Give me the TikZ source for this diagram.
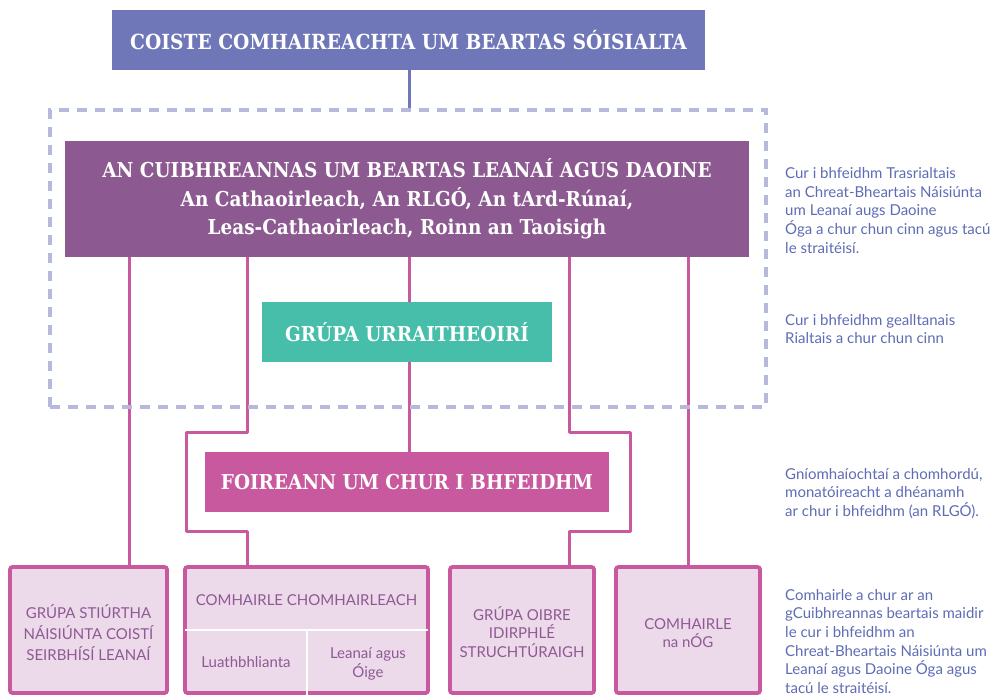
\documentclass[tikz,border=0pt]{standalone}
\usepackage{fontspec}
\setmainfont{Lato}
\newfontfamily\slab{DejaVu Serif Condensed}
\definecolor{topblue}{HTML}{6F77B8}
\definecolor{plum}{HTML}{8C5A91}
\definecolor{teal}{HTML}{47BEA9}
\definecolor{magenta}{HTML}{C9599E}
\definecolor{dashlav}{HTML}{B6B8DC}
\definecolor{lightpink}{HTML}{ECD9EA}
\definecolor{annot}{HTML}{5E6CB4}
\definecolor{boxtext}{HTML}{8E5A93}
\tikzset{
  headbox/.style={inner sep=0pt, text=white, align=center, font=\slab\bfseries},
  lowbox/.style={draw=magenta, line width=3.8pt, fill=lightpink, rounded corners=2.5pt,
     inner sep=0pt, minimum height=126pt},
  boxlabel/.style={text=boxtext, align=center, font=\fontsize{15}{21}\selectfont, inner sep=0pt},
  link/.style={draw=magenta, line width=3pt, line join=round},
  note/.style={text=annot, align=left, anchor=north west, inner sep=0pt,
     font=\fontsize{15}{18.6}\selectfont}
}
\begin{document}
\begin{tikzpicture}[x=1pt,y=-1pt]
\useasboundingbox (0,0) rectangle (992,695);
% head boxes
\node[headbox, fill=topblue, minimum width=593pt, minimum height=60pt, font=\slab\bfseries\fontsize{20.8}{24}\selectfont]
  (top) at (408.5,40) {COISTE COMHAIREACHTA UM BEARTAS SÓISIALTA};
\node[headbox, fill=plum, minimum width=684pt, minimum height=116pt, font=\slab\bfseries\fontsize{20.5}{28.5}\selectfont]
  (cuib) at (407,199) {AN CUIBHREANNAS UM BEARTAS LEANAÍ AGUS DAOINE\\An Cathaoirleach, An RLGÓ, An tArd-Rúnaí,\\Leas-Cathaoirleach, Roinn an Taoisigh};
\node[headbox, fill=teal, minimum width=290pt, minimum height=60pt, font=\slab\bfseries\fontsize{20.5}{24}\selectfont]
  (grp) at (407,332) {GRÚPA URRAITHEOIRÍ};
\node[headbox, fill=magenta, minimum width=404pt, minimum height=60pt, font=\slab\bfseries\fontsize{20.5}{24}\selectfont]
  (foir) at (407,482) {FOIREANN UM CHUR I BHFEIDHM};
% bottom boxes
\node[lowbox, minimum width=157pt] (b1) at (88.5,630) {};
\node[lowbox, minimum width=243pt] (b2) at (306.5,630) {};
\node[lowbox, minimum width=144pt] (b3) at (522,630) {};
\node[lowbox, minimum width=144pt] (b4) at (688,630) {};
% dividers in b2
\coordinate (dv) at (307,630);
\draw[white, line width=2pt] ([xshift=1.9pt]b2.west |- dv) -- ([xshift=-1.9pt]b2.east |- dv);
\draw[white, line width=2pt] (dv) -- ([yshift=-1.9pt]b2.south -| dv);
% bottom labels
\node[boxlabel] (l1) at (88.5,633) {GRÚPA STIÚRTHA\\NÁISIÚNTA COISTÍ\\SEIRBHÍSÍ LEANAÍ};
\node[boxlabel] (l2) at (306.5,600) {COMHAIRLE CHOMHAIRLEACH};
\node[boxlabel] (l2a) at (246,662) {Luathbhlianta};
\node[boxlabel, font=\fontsize{15}{19.5}\selectfont] (l2b) at (368,664) {Leanaí agus\\Óige};
\node[boxlabel, font=\fontsize{15}{18.5}\selectfont] (l3) at (522,632) {GRÚPA OIBRE\\IDIRPHLÉ\\STRUCHTÚRAIGH};
\node[boxlabel, font=\fontsize{15}{18.5}\selectfont] (l4) at (688,633) {COMHAIRLE\\na nÓG};
% connector coordinates
\coordinate (x1) at (129,0);
\coordinate (x2) at (247,0);
\coordinate (x3) at (409,0);
\coordinate (x4) at (569,0);
\coordinate (x5) at (688,0);
\coordinate (xl) at (186,0);
\coordinate (xr) at (630,0);
\coordinate (ya) at (0,432);
\coordinate (yb) at (0,531);
% connectors
\draw[link] (cuib.south -| x1) -- (b1.north -| x1);
\draw[link] (cuib.south -| x2) -- (x2 |- ya) -- (xl |- ya) -- (xl |- yb) -- (x2 |- yb) -- (b2.north -| x2);
\draw[link] (cuib.south -| x3) -- (grp.north -| x3);
\draw[link] (grp.south -| x3) -- (foir.north -| x3);
\draw[link] (cuib.south -| x4) -- (x4 |- ya) -- (xr |- ya) -- (xr |- yb) -- (x4 |- yb) -- (b3.north -| x4);
\draw[link] (cuib.south -| x5) -- (b4.north -| x5);
% dashed group frame
\node[draw=dashlav, line width=4pt, dash pattern=on 10pt off 8pt, inner sep=0pt,
  minimum width=716pt, minimum height=297pt] (frame) at (408,258.5) {};
\draw[topblue, line width=3pt] (top.south -| x3) -- (frame.north -| x3);
% notes
\node[note] (n1) at (785,167.5) {Cur i bhfeidhm Trasrialtais\\an Chreat-Bheartais Náisiúnta\\um Leanaí augs Daoine\\Óga a chur chun cinn agus tacú\\le straitéisí.};
\node[note] (n2) at (785,314) {Cur i bhfeidhm gealltanais\\Rialtais a chur chun cinn};
\node[note] (n3) at (785,468) {Gníomhaíochtaí a chomhordú,\\monatóireacht a dhéanamh\\ar chur i bhfeidhm (an RLGÓ).};
\node[note] (n4) at (785,589) {Comhairle a chur ar an\\gCuibhreannas beartais maidir\\le cur i bhfeidhm an\\Chreat-Bheartais Náisiúnta um\\Leanaí agus Daoine Óga agus\\tacú le straitéisí.};
\end{tikzpicture}
\end{document}
